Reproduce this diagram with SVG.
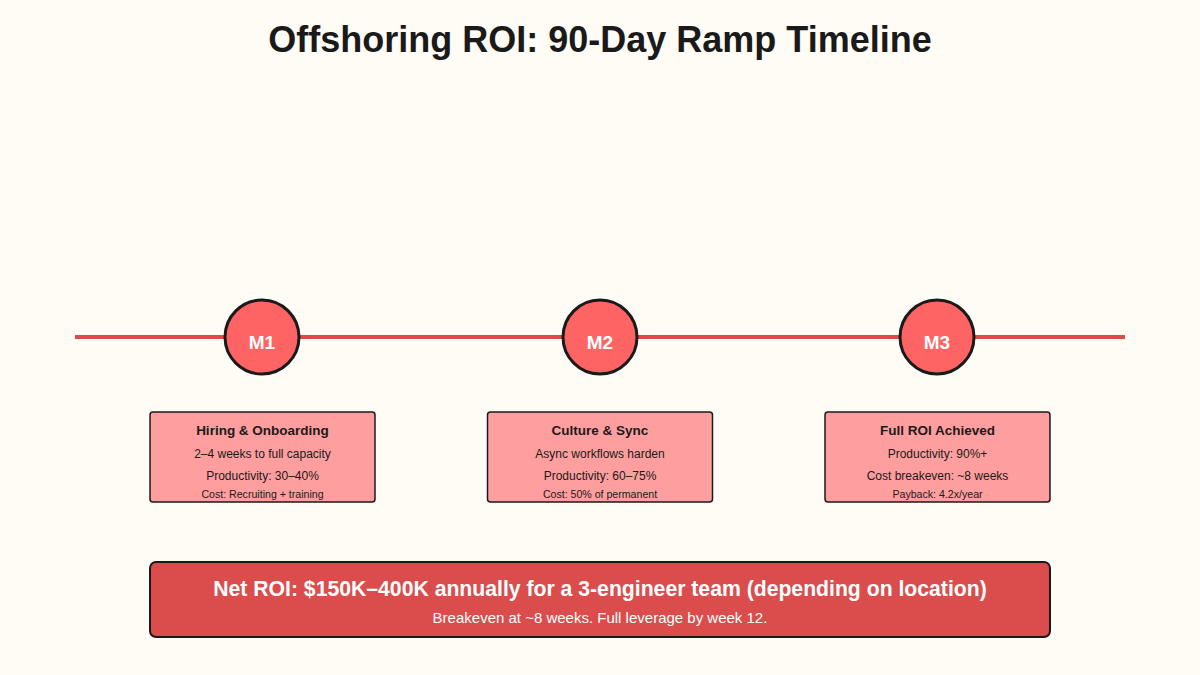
<svg xmlns="http://www.w3.org/2000/svg" width="1200" height="675" viewBox="0 0 1200 675">
<style>
text{font-family:"Liberation Sans",Arial,sans-serif;text-anchor:middle}
.title{font-size:36px;font-weight:bold;fill:#1a1a1a}
.ms circle{fill:#ff6464;stroke:#1a1a1a;stroke-width:3}
.ms text{font-size:19px;font-weight:bold;fill:#ffffff}
.card rect{fill:#ff9e9e;stroke:#1a1a1a;stroke-width:1.5}
.ct{font-size:13.5px;font-weight:bold;fill:#1a1a1a}
.cl{font-size:12px;fill:#1a1a1a}
.cs{font-size:10.6px;fill:#1a1a1a}
</style>
<rect width="1200" height="675" fill="#fffcf5"/>
<text class="title" x="600" y="52">Offshoring ROI: 90-Day Ramp Timeline</text>
<g id="connectors">
<line x1="75" y1="337" x2="1125" y2="337" stroke="#dc4a4a" stroke-width="4"/>
</g>
<g id="m1" class="ms"><circle cx="262" cy="337" r="37"/><text x="262" y="349">M1</text></g>
<g id="m2" class="ms"><circle cx="600" cy="337" r="37"/><text x="600" y="349">M2</text></g>
<g id="m3" class="ms"><circle cx="937" cy="337" r="37"/><text x="937" y="349">M3</text></g>
<g id="card1" class="card">
<rect x="150" y="412" width="225" height="90" rx="3"/>
<text class="ct" x="262.5" y="435">Hiring &amp; Onboarding</text>
<text class="cl" x="262.5" y="458">2–4 weeks to full capacity</text>
<text class="cl" x="262.5" y="480">Productivity: 30–40%</text>
<text class="cs" x="262.5" y="498">Cost: Recruiting + training</text>
</g>
<g id="card2" class="card">
<rect x="487.5" y="412" width="225" height="90" rx="3"/>
<text class="ct" x="600" y="435">Culture &amp; Sync</text>
<text class="cl" x="600" y="458">Async workflows harden</text>
<text class="cl" x="600" y="480">Productivity: 60–75%</text>
<text class="cs" x="600" y="498">Cost: 50% of permanent</text>
</g>
<g id="card3" class="card">
<rect x="825" y="412" width="225" height="90" rx="3"/>
<text class="ct" x="937.5" y="435">Full ROI Achieved</text>
<text class="cl" x="937.5" y="458">Productivity: 90%+</text>
<text class="cl" x="937.5" y="480">Cost breakeven: ~8 weeks</text>
<text class="cs" x="937.5" y="498">Payback: 4.2x/year</text>
</g>
<g id="summary">
<rect x="150" y="562" width="900" height="75" rx="6" fill="#db4d4d" stroke="#1a1a1a" stroke-width="2"/>
<text x="600" y="596" font-size="21.2" font-weight="bold" fill="#ffffff">Net ROI: $150K–400K annually for a 3-engineer team (depending on location)</text>
<text x="600" y="623" font-size="15" fill="#ffffff">Breakeven at ~8 weeks. Full leverage by week 12.</text>
</g>
</svg>
